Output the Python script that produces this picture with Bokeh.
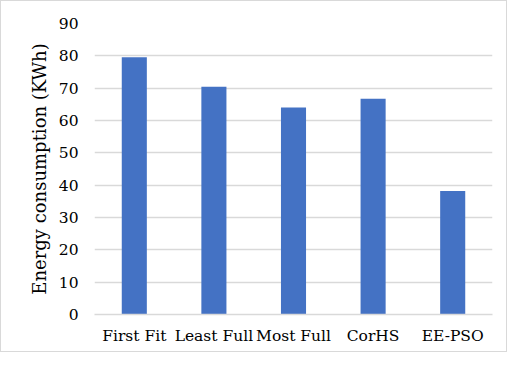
from bokeh.plotting import figure
from bokeh.embed import file_html
from bokeh.resources import INLINE
from bokeh.models import ColumnDataSource, FixedTicker, Range1d

categories = ["First Fit", "Least Full", "Most Full", "CorHS", "EE-PSO"]
energy = [79.6, 70.4, 64.0, 66.7, 38.2]
y_ticks = [0, 10, 20, 30, 40, 50, 60, 70, 80, 90]

FONT = "DejaVu Serif"
FS = "15.5px"

src = ColumnDataSource(dict(cat=categories, val=energy))

p = figure(x_range=categories, y_range=Range1d(0, 90),
           width=507, height=352, output_backend="svg", toolbar_location=None,
           min_border_left=93, min_border_right=16, min_border_top=22,
           min_border_bottom=39)
p.styles = {"border": "1px solid #d9d9d9"}
p.vbar(x="cat", top="val", width=0.315, source=src, color="#4472C4", line_color=None)

p.outline_line_color = None
p.xgrid.grid_line_color = None
p.ygrid.grid_line_color = "#d9d9d9"
p.ygrid.grid_line_width = 1.3
p.yaxis.ticker = FixedTicker(ticks=y_ticks)
p.yaxis.axis_line_color = None
p.yaxis.major_tick_line_color = None
p.yaxis.minor_tick_line_color = None
p.yaxis.major_tick_out = 0
p.yaxis.major_tick_in = 0
p.yaxis.major_label_standoff = 16
p.yaxis.axis_label = "Energy consumption (KWh)"
p.yaxis.axis_label_text_font = FONT
p.yaxis.axis_label_text_font_size = "18px"
p.yaxis.axis_label_text_font_style = "normal"
p.yaxis.axis_label_text_color = "#000000"
p.yaxis.axis_label_standoff = 6
p.yaxis.major_label_text_font = FONT
p.yaxis.major_label_text_font_size = FS
p.yaxis.major_label_text_color = "#000000"

p.xaxis.axis_line_color = "#d9d9d9"
p.xaxis.axis_line_width = 1.3
p.xaxis.major_tick_line_color = None
p.xaxis.minor_tick_line_color = None
p.xaxis.major_tick_out = 0
p.xaxis.major_tick_in = 0
p.xaxis.major_label_standoff = 12
p.xaxis.major_label_text_font = FONT
p.xaxis.major_label_text_font_size = FS
p.xaxis.major_label_text_color = "#000000"
p.x_range.range_padding = 0.0

open("out.html", "w").write(file_html(p, INLINE))
